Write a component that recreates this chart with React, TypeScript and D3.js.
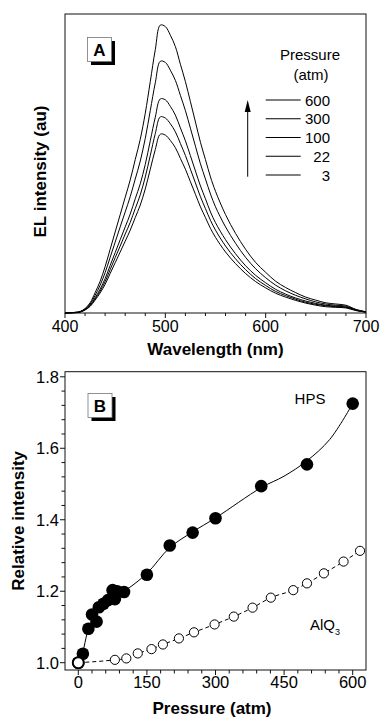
import React from "react";
import * as d3 from "d3";

// ---------- Panel A data ----------
const wavelengths = [400, 410, 415, 420, 425, 430, 435, 440, 445, 450, 455, 460, 465, 470, 475, 480, 485, 490, 495, 500, 505, 510, 515, 520, 525, 530, 535, 540, 545, 550, 560, 570, 580, 590, 600, 610, 620, 630, 640, 650, 660, 670, 680, 690, 700];
const el600 = [0, .002, .005, .015, .034, .068, .106, .155, .213, .271, .329, .387, .445, .513, .581, .668, .774, .881, .963, .958, .929, .891, .832, .774, .707, .639, .571, .513, .455, .407, .329, .266, .213, .169, .136, .106, .085, .068, .053, .043, .034, .030, .026, .012, .004];
const el300 = [0, .002, .004, .013, .030, .059, .093, .135, .186, .237, .288, .338, .389, .448, .508, .584, .677, .770, .842, .838, .812, .778, .728, .677, .618, .558, .499, .448, .398, .355, .288, .233, .186, .148, .118, .093, .074, .059, .047, .037, .030, .026, .023, .011, .004];
const el100 = [0, .002, .004, .012, .026, .051, .080, .115, .159, .202, .245, .288, .331, .382, .432, .497, .576, .655, .716, .713, .691, .662, .619, .576, .526, .475, .425, .382, .338, .302, .245, .198, .158, .126, .101, .079, .063, .050, .040, .032, .026, .023, .020, .010, .003];
const el22 = [0, .001, .003, .011, .024, .047, .073, .105, .145, .185, .224, .264, .303, .349, .395, .455, .527, .600, .656, .652, .633, .606, .567, .527, .481, .435, .389, .349, .310, .277, .224, .181, .145, .115, .092, .072, .058, .046, .036, .029, .024, .021, .019, .009, .003];
const el3 = [0, .001, .003, .010, .022, .043, .067, .096, .132, .168, .204, .240, .277, .319, .361, .415, .481, .547, .598, .595, .577, .553, .517, .481, .439, .397, .355, .319, .283, .253, .204, .165, .132, .105, .084, .066, .053, .042, .033, .026, .021, .019, .017, .008, .003];
const spectra = [el600, el300, el100, el22, el3];
const legendLabels = ["600", "300", "100", "22", "3"];
const xTicksA = [400, 500, 600, 700];

// ---------- Panel B data ----------
const hpsP = [0, 10, 22, 30, 40, 45, 55, 65, 75, 80, 85, 100, 150, 200, 250, 300, 400, 500, 600];
const hpsV = [1.0, 1.025, 1.095, 1.135, 1.115, 1.155, 1.165, 1.175, 1.203, 1.178, 1.2, 1.198, 1.246, 1.328, 1.364, 1.404, 1.494, 1.555, 1.725];
const hpsFitP = [0, 5, 10, 20, 30, 45, 60, 80, 100, 150, 200, 250, 300, 400, 450, 500, 550, 600];
const hpsFitV = [1.0, 1.01, 1.03, 1.085, 1.12, 1.15, 1.17, 1.188, 1.2, 1.25, 1.322, 1.366, 1.405, 1.49, 1.522, 1.565, 1.625, 1.725];
const alqP = [0, 80, 105, 130, 160, 185, 220, 253, 298, 340, 381, 421, 470, 500, 537, 580, 616];
const alqV = [1.0, 1.008, 1.012, 1.026, 1.038, 1.051, 1.068, 1.085, 1.107, 1.129, 1.154, 1.182, 1.203, 1.222, 1.25, 1.283, 1.313];
const xTicksB = [0, 150, 300, 450, 600];
const yTicksB = [1.0, 1.2, 1.4, 1.6, 1.8];

const FONT = "'Liberation Sans', Arial, Helvetica, sans-serif";
const INK = "#111";

export default function App() {
  // Panel A geometry
  const aL = 65, aR = 366, aT = 14, aB = 313;
  const xA = d3.scaleLinear().domain([400, 700]).range([aL, aR]);
  const yA = d3.scaleLinear().domain([0, 1]).range([aB, aT]);
  const lineA = d3
    .line<number>()
    .x((_, i) => xA(wavelengths[i]))
    .y((d) => yA(d))
    .curve(d3.curveCatmullRom.alpha(0.5));
  const minorA = d3.range(400, 701, 20);

  // Panel B geometry
  const bL = 65, bR = 366, bT = 371.7, bB = 670;
  const xB = d3.scaleLinear().domain([0, 600]).range([78.3, 352.7]);
  const yB = d3.scaleLinear().domain([1.0, 1.8]).range([662.7, 376.8]);
  const minorXB = d3.range(-30, 631, 30).filter((v) => xB(v) >= bL && xB(v) <= bR);
  const minorYB = d3.range(0, 21).map((i) => 1.0 + i * 0.04).filter((v) => yB(v) >= bT && yB(v) <= bB);
  const hpsLine = d3
    .line<number>()
    .x((_, i) => xB(hpsFitP[i]))
    .y((d) => yB(d))
    .curve(d3.curveCatmullRom.alpha(0.5));
  const alqLine = d3
    .line<number>()
    .x((_, i) => xB(alqP[i]))
    .y((d) => yB(d))
    .curve(d3.curveMonotoneX);

  const legendY = d3.scaleLinear().domain([0, 4]).range([100, 175]);

  const Box = ({ x, y, label }: { x: number; y: number; label: string }) => (
    <g>
      <rect x={x + 3.5} y={y + 3.5} width={24} height={24} fill="#000" />
      <rect x={x} y={y} width={24} height={24} fill="#fff" stroke="#777" strokeWidth={0.8} />
      <text x={x + 12} y={y + 18} textAnchor="middle" fontSize={17} fontWeight="bold" fontFamily={FONT} fill="#000">
        {label}
      </text>
    </g>
  );

  return (
    <svg width={381} height={718} style={{ position: "absolute", left: 0, top: 0, background: "#fff" }}>
      {/* ===== Panel A ===== */}
      <rect x={aL} y={aT} width={aR - aL} height={aB - aT} fill="none" stroke={INK} strokeWidth={1} />
      {minorA.map((v) => (
        <line key={"ma" + v} x1={xA(v)} x2={xA(v)} y1={aB} y2={aB + (v % 100 === 0 ? 5 : 3)} stroke={INK} strokeWidth={1} />
      ))}
      {xTicksA.map((v) => (
        <text key={"ta" + v} x={xA(v)} y={332} textAnchor="middle" fontSize={16} fontFamily={FONT} fill="#000">
          {v}
        </text>
      ))}
      <text x={(aL + aR) / 2} y={355} textAnchor="middle" fontSize={17} fontWeight="bold" fontFamily={FONT}>
        Wavelength (nm)
      </text>
      <text
        transform={`translate(40,${(aT + aB) / 2 + 8}) rotate(-90)`}
        textAnchor="middle"
        dy="0.35em"
        fontSize={17}
        fontWeight="bold"
        fontFamily={FONT}
      >
        EL intensity (au)
      </text>
      {spectra.map((s, k) => (
        <path key={"s" + k} d={lineA(s) || ""} fill="none" stroke="#000" strokeWidth={1} />
      ))}
      <Box x={87.5} y={37.5} label="A" />
      {/* legend */}
      <text x={310} y={60} textAnchor="middle" fontSize={15} fontFamily={FONT}>Pressure</text>
      <text x={311} y={80} textAnchor="middle" fontSize={15} fontFamily={FONT}>(atm)</text>
      {legendLabels.map((l, i) => (
        <g key={"lg" + l}>
          <line x1={265.7} x2={300.7} y1={legendY(i)} y2={legendY(i)} stroke="#000" strokeWidth={1} />
          <text x={330} y={legendY(i) + 5.5} textAnchor="end" fontSize={15} fontFamily={FONT}>
            {l}
          </text>
        </g>
      ))}
      <line x1={247.7} x2={247.7} y1={176.7} y2={110} stroke="#000" strokeWidth={1} />
      <path d="M247.7,100 L244.7,112 L250.7,112 Z" fill="#000" />

      {/* ===== Panel B ===== */}
      <rect x={bL} y={bT} width={bR - bL} height={bB - bT} fill="none" stroke={INK} strokeWidth={1} />
      {minorXB.map((v) => (
        <line key={"mxb" + v} x1={xB(v)} x2={xB(v)} y1={bB} y2={bB + (v % 150 === 0 ? 5 : 3.5)} stroke={INK} strokeWidth={1} />
      ))}
      {minorYB.map((v, i) => (
        <line key={"myb" + i} x1={bL} x2={bL - (Math.abs(((v - 1.0) / 0.2) - Math.round((v - 1.0) / 0.2)) < 1e-6 ? 5 : 3.5)} y1={yB(v)} y2={yB(v)} stroke={INK} strokeWidth={1} />
      ))}
      {xTicksB.map((v) => (
        <text key={"txb" + v} x={xB(v)} y={688} textAnchor="middle" fontSize={16.5} fontFamily={FONT}>
          {v}
        </text>
      ))}
      {yTicksB.map((v) => (
        <text key={"tyb" + v} x={59} y={yB(v) + 6} textAnchor="end" fontSize={16.5} fontFamily={FONT}>
          {v.toFixed(1)}
        </text>
      ))}
      <text x={212} y={714} textAnchor="middle" fontSize={17} fontWeight="bold" fontFamily={FONT}>
        Pressure (atm)
      </text>
      <text
        transform={`translate(18.5,${(bT + bB) / 2}) rotate(-90)`}
        textAnchor="middle"
        dy="0.35em"
        fontSize={17}
        fontWeight="bold"
        fontFamily={FONT}
      >
        Relative intensity
      </text>
      <Box x={88} y={393.5} label="B" />
      <text x={310} y={404} textAnchor="middle" fontSize={15} fontFamily={FONT}>HPS</text>
      <text x={310} y={630} fontSize={15} fontFamily={FONT}>
        AlQ<tspan fontSize={9} dy={5}>3</tspan>
      </text>

      <path d={hpsLine(hpsFitV) || ""} fill="none" stroke="#000" strokeWidth={1} />
      <path d={alqLine(alqV) || ""} fill="none" stroke="#000" strokeWidth={1} strokeDasharray="4,3" />
      {hpsV.map((v, i) => (
        <circle key={"h" + i} cx={xB(hpsP[i])} cy={yB(v)} r={6.3} fill="#000" />
      ))}
      {alqV.map((v, i) => (
        <circle key={"a" + i} cx={xB(alqP[i])} cy={yB(v)} r={i === 0 ? 5.5 : 4.6} fill="#fff" stroke="#000" strokeWidth={i === 0 ? 2 : 1} />
      ))}
    </svg>
  );
}
